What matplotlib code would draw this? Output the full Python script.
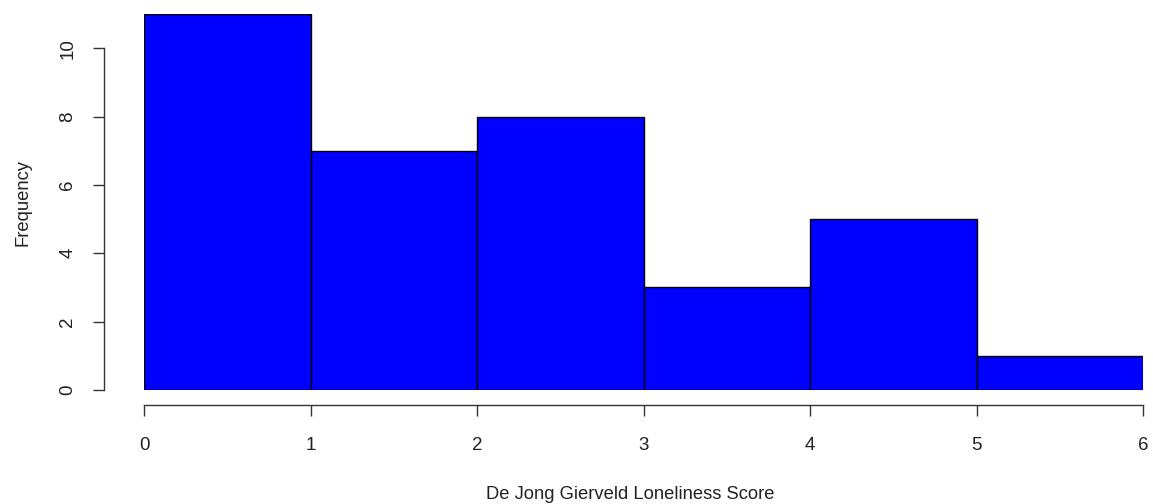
import matplotlib.pyplot as plt

# histogram of loneliness scores, one bin per unit
bin_edges = [0, 1, 2, 3, 4, 5, 6]
counts = [11, 7, 8, 3, 5, 1]
x_ticks = [0, 1, 2, 3, 4, 5, 6]
y_ticks = [0, 2, 4, 6, 8, 10]

plt.rcParams['font.family'] = ['Liberation Sans', 'DejaVu Sans']

W, H = 1153, 504
fig = plt.figure(figsize=(W / 100, H / 100), dpi=100)
# axes box in pixels: x 0..6 -> 144..1143, y 0..11 -> 390..14
ax = fig.add_axes([144 / W, (H - 390) / H, (1143 - 144) / W, (390 - 14) / H])

widths = [b - a for a, b in zip(bin_edges[:-1], bin_edges[1:])]
ax.bar(bin_edges[:-1], counts, width=widths, align='edge',
       color='#0000ff', edgecolor='black', linewidth=1.0)

ax.set_xlim(0, 6)
ax.set_ylim(0, 11)

for side in ['top', 'right']:
    ax.spines[side].set_visible(False)
px = 72 / 100
ax.spines['left'].set_position(('outward', 40 * px))
ax.spines['bottom'].set_position(('outward', 15 * px))
ax.spines['left'].set_bounds(0, 10)
ax.spines['bottom'].set_bounds(0, 6)
for side in ['left', 'bottom']:
    ax.spines[side].set_color('#333333')
    ax.spines[side].set_linewidth(1.0)

ax.set_xticks(x_ticks)
ax.set_yticks(y_ticks)
ax.tick_params(axis='both', length=11 * px, width=1.0, color='#333333',
               labelsize=13.5, labelcolor='#222222')
ax.tick_params(axis='x', pad=15)
ax.tick_params(axis='y', pad=12)
for lbl in ax.get_yticklabels():
    lbl.set_rotation(90)
    lbl.set_va('center')

ax.set_xlabel('De Jong Gierveld Loneliness Score', fontsize=13.2,
              color='#222222', labelpad=23)
ax.xaxis.label.set_x(0.4865)
ax.set_ylabel('Frequency', fontsize=13.2, color='#222222', labelpad=20)

fig.savefig('out.png', dpi=100)
